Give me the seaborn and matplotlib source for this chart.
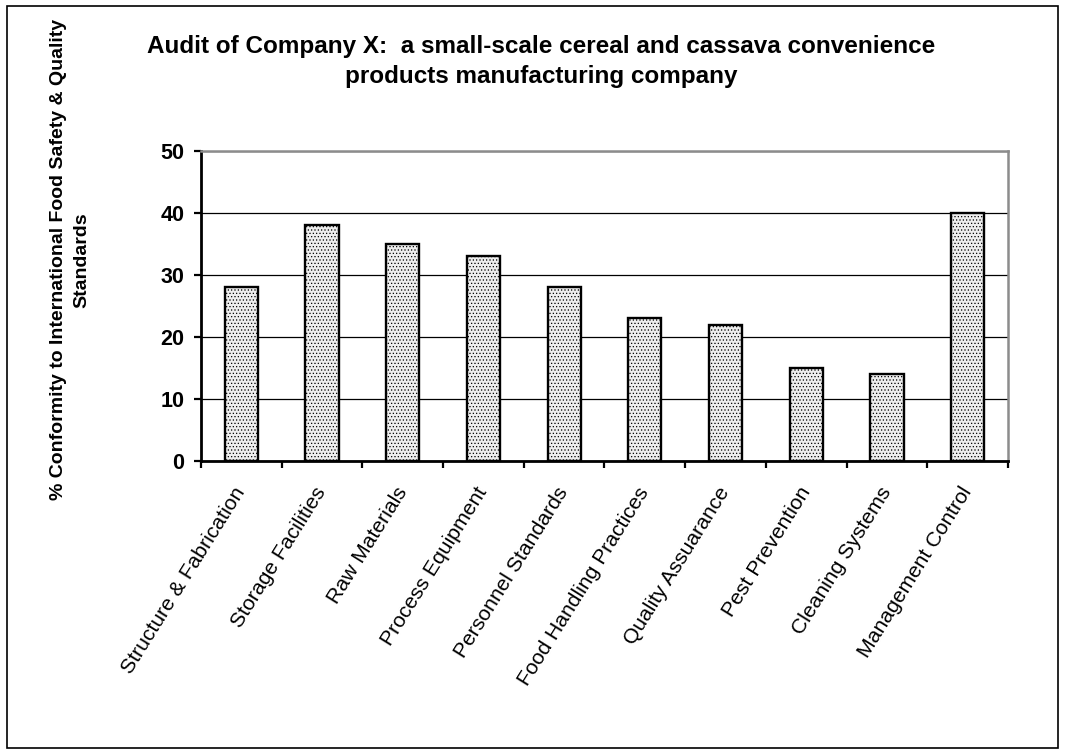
import matplotlib
matplotlib.use("Agg")
import matplotlib.pyplot as plt
import seaborn as sns
import pandas as pd
from matplotlib.patches import Rectangle

categories = ["Structure & Fabrication", "Storage Facilities", "Raw Materials",
              "Process Equipment", "Personnel Standards", "Food Handling Practices",
              "Quality Assuarance", "Pest Prevention", "Cleaning Systems",
              "Management Control"]
conformity = [28, 38, 35, 33, 28, 23, 22, 15, 14, 40]
y_ticks = [0, 10, 20, 30, 40, 50]

sns.set_theme(style="white", rc={
    "text.color": "black", "axes.labelcolor": "black",
    "xtick.color": "black", "ytick.color": "black",
    "xtick.bottom": True, "ytick.left": True,
    "hatch.color": "#b0b0b0", "hatch.linewidth": 0.5,
})
plt.rcParams["font.family"] = ["Liberation Sans", "DejaVu Sans"]

df = pd.DataFrame({"category": categories, "value": conformity})

fig = plt.figure(figsize=(10.65, 7.55), dpi=100)
fig.patches.append(Rectangle((0.007, 0.009), 0.986, 0.983, transform=fig.transFigure,
                             fill=False, edgecolor="black", linewidth=1.2))
ax = fig.add_axes([0.1887, 0.3894, 0.7578, 0.4106])

sns.barplot(data=df, x="category", y="value", ax=ax, color="#e4e4e4",
            width=0.41, edgecolor="black", linewidth=1.7, saturation=1, zorder=3)
for p in ax.patches:
    p.set_facecolor("#ededed")
    p.set_hatch(".....")
    if hasattr(p, "set_hatchcolor"):
        p.set_hatchcolor("#b0b0b0")

ax.set_ylim(0, 50)
ax.set_xlim(-0.5, len(categories) - 0.5)
ax.set_yticks(y_ticks)
ax.set_yticklabels([str(t) for t in y_ticks], fontsize=15.5, fontweight="bold")
ax.yaxis.grid(True, color="black", linewidth=0.9, zorder=0)
ax.set_axisbelow(True)

ax.set_xticks(range(len(categories)))
ax.set_xticklabels(categories, rotation=58, ha="right", va="center",
                   rotation_mode="anchor", fontsize=15.2)
ax.tick_params(axis="x", which="major", length=0, pad=20)
# Category separators drawn as outward ticks on the x axis
ax.set_xticks([i - 0.5 for i in range(len(categories) + 1)], minor=True)
ax.tick_params(axis="x", which="minor", bottom=True, length=5, width=1.6,
               color="black", direction="out")
ax.tick_params(axis="y", length=5, width=1.6, color="black", direction="out", pad=7)

for side in ["left", "bottom"]:
    ax.spines[side].set_color("black")
    ax.spines[side].set_linewidth(2.0)
for side in ["top", "right"]:
    ax.spines[side].set_color("#8c8c8c")
    ax.spines[side].set_linewidth(1.8)

ax.set_xlabel("")
ax.set_ylabel("")
fig.text(0.066, 0.656, "% Conformity to International Food Safety & Quality\nStandards",
         rotation=90, ha="center", va="center", multialignment="center",
         fontsize=14.0, fontweight="bold", linespacing=1.45)

fig.text(0.508, 0.919, "Audit of Company X:  a small-scale cereal and cassava convenience\nproducts manufacturing company",
         ha="center", va="center", fontsize=17.5, fontweight="bold", linespacing=1.4)

fig.savefig("out.png", dpi=100)
